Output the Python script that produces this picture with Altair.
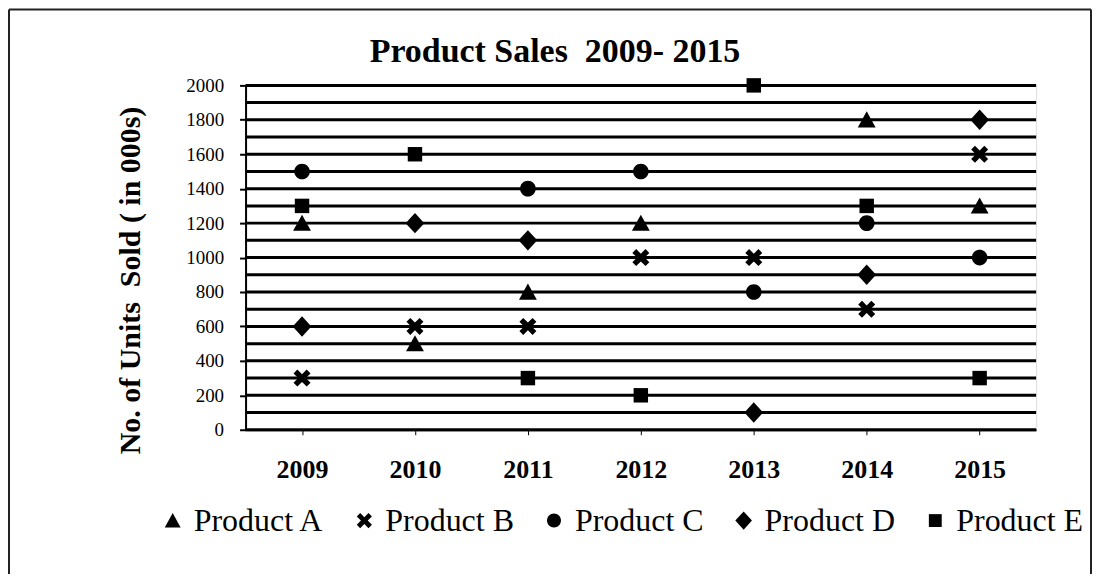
import altair as alt
import pandas as pd

# ---- data ----
years = ["2009", "2010", "2011", "2012", "2013", "2014", "2015"]
products = ["Product A", "Product B", "Product C", "Product D", "Product E"]
product_a = [1200, 500, 800, 1200, None, 1800, 1300]
product_b = [300, 600, 600, 1000, 1000, 700, 1600]
product_c = [1500, None, 1400, 1500, 800, 1200, 1000]
product_d = [600, 1200, 1100, None, 100, 900, 1800]
product_e = [1300, 1600, 300, 200, 2000, 1300, 300]
y_tick_values = list(range(0, 2001, 200))
grid_values = list(range(0, 2001, 100))

series = dict(zip(products, [product_a, product_b, product_c, product_d, product_e]))
rows = []
for p, vals in series.items():
    for yr, v in zip(years, vals):
        if v is not None:
            rows.append({"Year": yr, "Product": p, "Units": v})
df = pd.DataFrame(rows)
grid_df = pd.DataFrame({"Units": grid_values})

FONT = "Liberation Serif"
TRI = "M-1.05,0.9L0,-1.0L1.05,0.9Z"
X_PATH = ("M-1,-0.55L-0.55,-1L0,-0.45L0.55,-1L1,-0.55L0.45,0L1,0.55"
          "L0.55,1L0,0.45L-0.55,1L-1,0.55L-0.45,0Z")
CIRC = "M0.92,0A0.92,0.92 0 1,1 -0.92,0A0.92,0.92 0 1,1 0.92,0Z"
DIAM = "M-1.1,0L0,-1.2L1.1,0L0,1.2Z"
SQR = "M-0.85,-0.85L0.85,-0.85L0.85,0.85L-0.85,0.85Z"
shapes = [TRI, X_PATH, CIRC, DIAM, SQR]

W, H = 792, 345

y_axis = alt.Axis(
    values=y_tick_values, format="d", title="No. of Units\u00a0 Sold ( in 000s)",
    titleFont=FONT, titleFontSize=30, titleFontWeight="bold", titleColor="black",
    titleAngle=-90, titleX=-106, titleY=195, titleAlign="center",
    titleBaseline="alphabetic",
    labelFont=FONT, labelFontSize=19, labelColor="black", labelPadding=16,
    tickColor="black", tickSize=6, tickWidth=2, domainColor="black", domainWidth=2,
    grid=False,
)
y_scale = alt.Scale(domain=[0, 2000])

grid = alt.Chart(grid_df).mark_rule(color="black", strokeWidth=3).encode(
    y=alt.Y("Units:Q", scale=y_scale, axis=y_axis)
)

points = alt.Chart(df).mark_point(filled=True, color="black", opacity=1, size=290).encode(
    x=alt.X(
        "Year:N",
        sort=years,
        scale=alt.Scale(paddingInner=0, paddingOuter=0),
        axis=alt.Axis(
            title=None, labelAngle=0, labelFont=FONT, labelFontSize=26,
            labelFontWeight="bold", labelColor="black", labelPadding=22,
            tickColor="black", tickSize=5, domainColor="black", domainWidth=2,
            grid=False,
        ),
    ),
    y=alt.Y("Units:Q", scale=y_scale, axis=y_axis),
    shape=alt.Shape(
        "Product:N",
        sort=products,
        scale=alt.Scale(domain=products, range=shapes),
        legend=alt.Legend(
            title=None, orient="none", legendX=-89, legendY=420,
            direction="horizontal", columns=5,
            labelFont=FONT, labelFontSize=32, labelColor="black",
            symbolSize=230, symbolFillColor="black", symbolStrokeColor="black",
            symbolStrokeWidth=0, labelOffset=5, columnPadding=24,
        ),
    ),
)

border = alt.Chart(pd.DataFrame({"k": [0]})).mark_rule(color="#222", strokeWidth=2)
left_b = border.encode(x=alt.value(-237), y=alt.value(-76), y2=alt.value(H + 150))
top_b = border.encode(x=alt.value(-237), x2=alt.value(847), y=alt.value(-76))
right_b = border.encode(x=alt.value(847), y=alt.value(-76), y2=alt.value(H + 150))

chart = alt.layer(grid, points, left_b, top_b, right_b).properties(
    width=W,
    height=H,
    padding={"left": 238, "top": 77, "right": 57, "bottom": 144},
    autosize=alt.AutoSizeParams(type="none"),
    title=alt.TitleParams(
        "Product Sales\u00a0 2009- 2015", font=FONT, fontSize=34, fontWeight="bold",
        color="black", anchor="middle", dx=-86, offset=-61,
    ),
).configure_view(stroke=None).configure(background="white")

chart.save("out.html", embed_options={"renderer": "svg", "actions": False})
